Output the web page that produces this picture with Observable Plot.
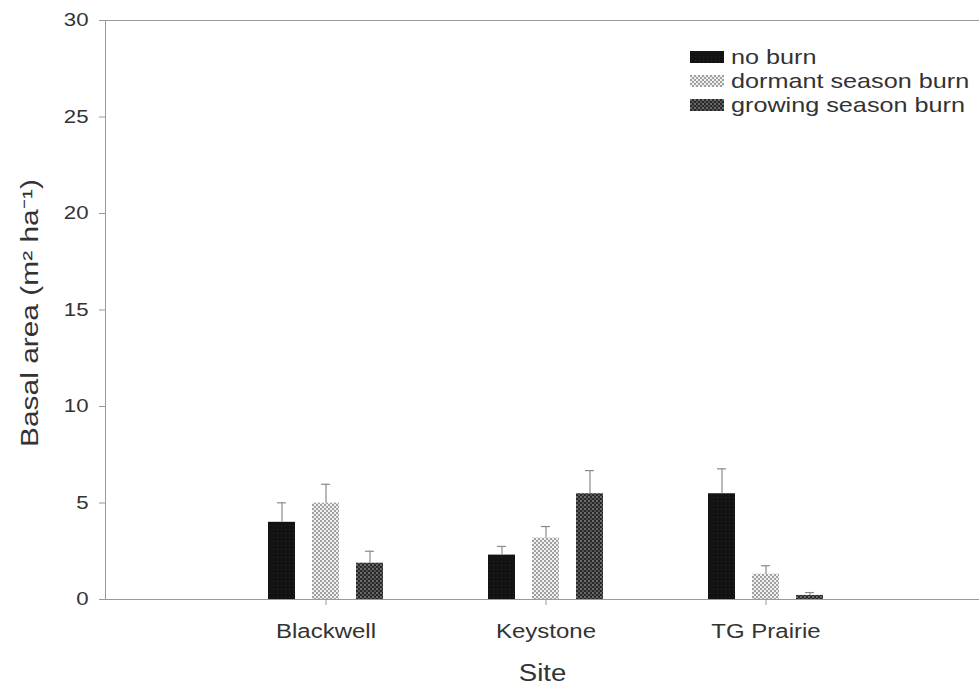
<!DOCTYPE html>
<html><head><meta charset="utf-8">
<script src="https://cdn.jsdelivr.net/npm/d3@7"></script>
<script src="https://cdn.jsdelivr.net/npm/@observablehq/plot@0.6"></script>
<style>
html,body{margin:0;padding:0;background:#fff;}
#wrap{position:relative;width:979px;height:693px;font-family:"Liberation Sans",Arial,sans-serif;}
#chart svg text{fill:#333;}
#chart [aria-label^="x-axis"] text{font-size:20px;}
#legend{position:absolute;left:690px;top:45px;}
.row{height:24px;display:flex;align-items:center;}
.row svg{width:34px;height:12px;margin-right:7px;flex:none;}
.row span{font-size:21px;color:#333;display:inline-block;transform:scaleX(1.2);transform-origin:left center;white-space:nowrap;}
</style></head>
<body>
<svg width="0" height="0" style="position:absolute">
 <defs>
  <pattern id="pNoBurn" width="4" height="4" patternUnits="userSpaceOnUse">
   <rect width="4" height="4" fill="#121212"/>
   <rect x="1" y="1" width="1" height="1" fill="#242424"/>
  </pattern>
  <pattern id="pDormant" width="4" height="4" patternUnits="userSpaceOnUse">
   <rect width="4" height="4" fill="#f0f0f0"/>
   <circle cx="1" cy="1" r="1" fill="#858585"/>
   <circle cx="3" cy="3" r="1" fill="#858585"/>
  </pattern>
  <pattern id="pGrowing" width="4" height="4" patternUnits="userSpaceOnUse">
   <rect width="4" height="4" fill="#282828"/>
   <circle cx="1" cy="1" r="0.9" fill="#8c8c8c"/>
   <circle cx="3" cy="3" r="0.9" fill="#6a6a6a"/>
  </pattern>
 </defs>
</svg>
<div id="wrap"><div id="chart"></div><div id="legend"></div></div>
<script>
const sites = ["Blackwell", "Keystone", "TG Prairie"];
const treatments = ["no burn", "dormant season burn", "growing season burn"];
const noBurn = [4.00, 2.30, 5.48];
const noBurnErr = [1.01, 0.45, 1.29];
const dormant = [4.99, 3.18, 1.31];
const dormantErr = [0.98, 0.60, 0.44];
const growing = [1.88, 5.48, 0.21];
const growingErr = [0.62, 1.20, 0.15];
const yTicks = [0, 5, 10, 15, 20, 25, 30];
const yTitle = "Basal area (m\u00B2 ha\u207B\u00B9)";
const xTitle = "Site";
const fills = ["url(#pNoBurn)", "url(#pDormant)", "url(#pGrowing)"];

const values = [noBurn, dormant, growing];
const errs = [noBurnErr, dormantErr, growingErr];
const rows = sites.flatMap((s, i) => treatments.map((t, j) => ({
  site: s, treatment: t, key: s + "|" + t, value: values[j][i], err: errs[j][i]
})));
// band domain: three bars per site, two empty slots between sites
const xDomain = sites.flatMap((s, i) => [
  ...(i ? ["gap" + i + "a", "gap" + i + "b"] : []),
  ...treatments.map(t => s + "|" + t)
]);
const tickKeys = sites.map(s => s + "|" + treatments[1]);

const plot = Plot.plot({
  width: 979, height: 693,
  marginTop: 20, marginBottom: 94, marginLeft: 105, marginRight: 0,
  style: {fontFamily: '"Liberation Sans", Arial, sans-serif', fontSize: "18.5px", color: "#9a9a9a", background: "transparent"},
  x: {domain: xDomain, paddingInner: 0.384, paddingOuter: 3.55, align: 0.51,
      ticks: tickKeys, tickFormat: k => k.split("|")[0], tickSize: 6, tickPadding: 18, label: null},
  y: {domain: [0, 30], ticks: yTicks, tickSize: 6, tickPadding: 11, line: true, label: null},
  color: {domain: treatments, range: fills},
  marks: [
    Plot.barY(rows, {x: "key", y: "value", fill: "treatment"}),
    Plot.ruleY([yTicks[0], yTicks[yTicks.length - 1]], {stroke: "#9a9a9a"}),
    Plot.ruleX(rows, {x: "key", y1: "value", y2: d => d.value + d.err, stroke: "#8a8a8a", strokeWidth: 1.2}),
    Plot.tickY(rows, {x: "key", y: d => d.value + d.err, stroke: "#8a8a8a", strokeWidth: 1.2, inset: 9}),
    Plot.text([xTitle], {text: d => d, frameAnchor: "bottom", dy: 74, fontSize: 23, lineAnchor: "middle"}),
    Plot.text([yTitle], {text: d => d, frameAnchor: "left", dx: -75, dy: 3, rotate: -90, fontSize: 23, textAnchor: "middle", lineAnchor: "middle"})
  ]
});
document.getElementById("chart").appendChild(plot);
document.querySelectorAll("#chart svg text").forEach(t => {
  const L = t.getComputedTextLength();
  if (L > 0) {
    const k = t.textContent === yTitle ? 1.3 : 1.2;
    t.setAttribute("textLength", L * k);
    t.setAttribute("lengthAdjust", "spacingAndGlyphs");
  }
});

const legend = document.getElementById("legend");
treatments.forEach((t, j) => {
  const row = document.createElement("div");
  row.className = "row";
  row.innerHTML = `<svg viewBox="0 0 34 12"><rect width="34" height="12" fill="${fills[j]}"/></svg><span>${t}</span>`;
  legend.appendChild(row);
});
</script>
</body></html>
